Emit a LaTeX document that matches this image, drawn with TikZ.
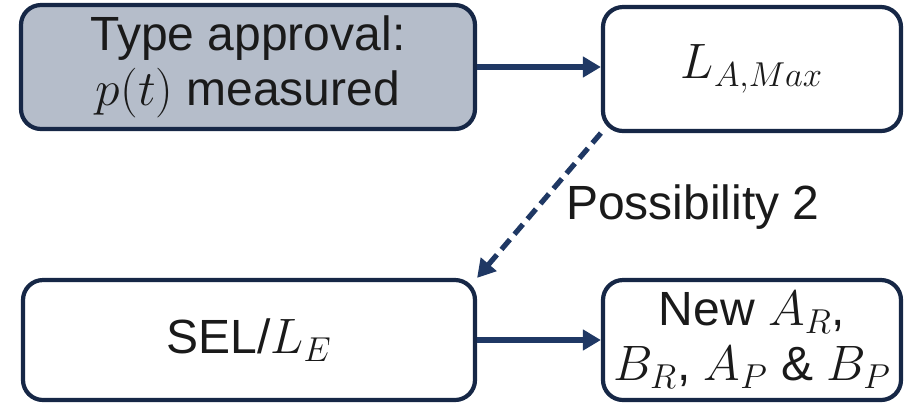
\documentclass[tikz,border=0pt]{standalone}
\usepackage{fontspec}
\setmainfont{Liberation Sans}
\usetikzlibrary{arrows.meta}
\definecolor{boxline}{RGB}{22,39,70}
\definecolor{arrowc}{RGB}{31,56,100}
\definecolor{boxfill}{RGB}{181,189,202}
\definecolor{txt}{RGB}{26,26,26}
\tikzset{
  stepbox/.style={draw=boxline, line width=2.1pt, rounded corners=10pt, fill=white,
    align=center, text=txt, inner sep=0pt, font=\fontsize{24}{27.5}\selectfont},
  flow/.style={draw=arrowc, line width=2.6pt, -{Triangle[length=9pt,width=10pt]}},
  dflow/.style={flow, dash pattern=on 6.5pt off 3.5pt},
}
\begin{document}
\begin{tikzpicture}[x=0.5pt,y=-0.5pt]
\useasboundingbox (0,0) rectangle (905,404);
\node[stepbox, fill=boxfill, minimum width=227pt, minimum height=62pt] (b1) at (248,67)
  {Type approval:\\$p(t)$ measured};
\node[stepbox, minimum width=149pt, minimum height=62pt] (b2) at (752,69)
  {$L_{A,Max}$};
\node[stepbox, minimum width=226pt, minimum height=60pt] (b3) at (249,340)
  {SEL/$L_E$};
\node[stepbox, minimum width=149pt, minimum height=60pt] (b4) at (752,340)
  {New $A_R$,\\$B_R$, $A_P$ \& $B_P$};
\draw[flow] (b1.east) -- (b1.east -| b2.west);
\draw[flow] (b3.east) -- (b3.east -| b4.west);
\draw[dflow] (b2.south west) -- (b3.north east);
\node[text=txt, font=\fontsize{24}{27.5}\selectfont, anchor=center] (lab) at (693,207) {Possibility 2};
\end{tikzpicture}
\end{document}
